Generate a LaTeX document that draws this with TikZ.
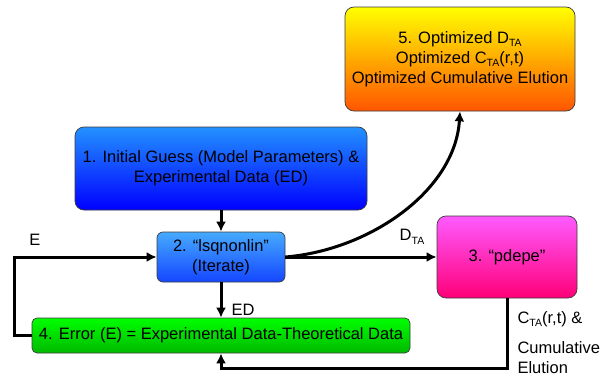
\documentclass[tikz,border=0pt]{standalone}
\usepackage{fontspec}
\setmainfont{Liberation Sans}
\usetikzlibrary{arrows.meta}
\newcommand{\TAsub}{\raisebox{-0.4ex}{\fontsize{10.5}{10.5}\selectfont TA}}
\definecolor{boxline}{RGB}{60,60,60}
\begin{document}
\begin{tikzpicture}[x=1pt, y=-1pt,
	box/.style={draw=boxline, line width=0.7pt, rounded corners=9pt, align=center, inner sep=0pt},
	arr/.style={line width=3pt, -{Latex[length=10pt, width=10pt]}},
	lbl/.style={font=\fontsize{16.5}{20}\selectfont},
	every node/.style={font=\fontsize{16.5}{20}\selectfont}]
	\useasboundingbox (0,0) rectangle (607,380);
	\node[box, minimum width=230pt, minimum height=104pt, top color=yellow, bottom color={rgb,255:red,255;green,85;blue,0}] (b5) at (460,59) {5. Optimized D\TAsub\\Optimized C\TAsub(r,t)\\Optimized Cumulative Elution};
	\node[box, minimum width=292pt, minimum height=83pt, top color={rgb,255:red,35;green,145;blue,255}, bottom color={rgb,255:red,0;green,0;blue,255}] (b1) at (221,168.5) {1. Initial Guess (Model Parameters) \&\\Experimental Data (ED)};
	\node[box, rounded corners=6pt, minimum width=128pt, minimum height=50pt, top color={rgb,255:red,70;green,170;blue,255}, bottom color={rgb,255:red,20;green,70;blue,255}] (b2) at (221,257) {2. “lsqnonlin”\\(Iterate)};
	\node[box, minimum width=140pt, minimum height=82pt, top color={rgb,255:red,255;green,90;blue,255}, bottom color={rgb,255:red,255;green,0;blue,120}] (b3) at (507,257) {3. “pdepe”};
	\node[box, rounded corners=5pt, minimum width=378pt, minimum height=35pt, top color={rgb,255:red,0;green,255;blue,0}, bottom color={rgb,255:red,0;green,185;blue,0}] (b4) at (221,335.5) {4. Error (E) = Experimental Data-Theoretical Data};
	\draw[arr] (b1) -- (b2);
	\draw[arr] (b2) -- (b3);
	\draw[arr] (b2.east) .. controls +(85,-7) and +(-5,79) .. (b5.south);
	\draw[arr] (b2) -- (b4);
	\draw[arr] (b4.west) -- ++(-17,0) |- (b2.west);
	\draw[arr] (b3.south) -- ++(0,70) -| (b4.south);
	\node[lbl] (le) at (35,240) {E};
	\node[lbl] (ldta) at (412,237) {D\TAsub};
	\node[lbl] (led) at (243,310) {ED};
	\node[lbl, anchor=west] (lcta) at (514,319) {C\TAsub(r,t) \&};
	\node[lbl, anchor=west, align=left] (lcum) at (514,358) {Cumulative\\Elution};
\end{tikzpicture}
\end{document}
